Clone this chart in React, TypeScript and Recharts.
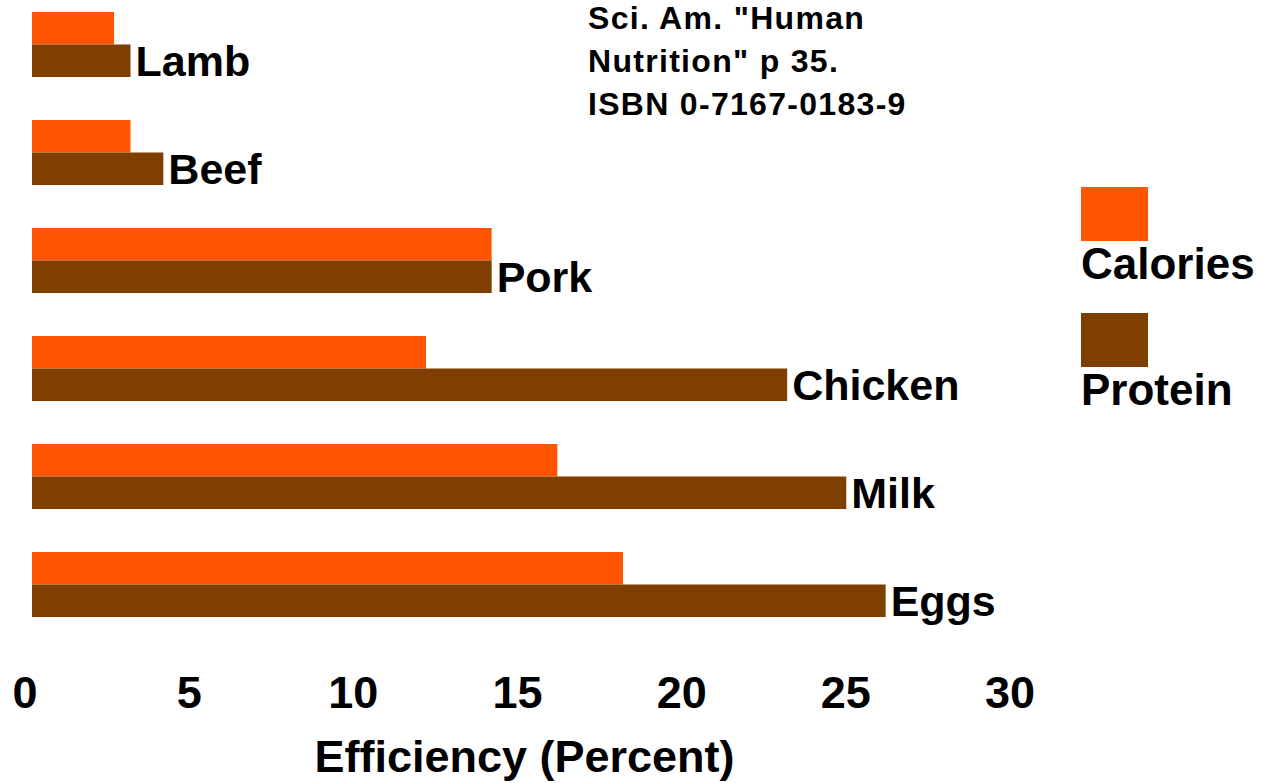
import React from 'react';
import { BarChart, Bar, XAxis, YAxis, Legend, LabelList } from 'recharts';

const foods = ['Lamb', 'Beef', 'Pork', 'Chicken', 'Milk', 'Eggs'];
const calories = [2.5, 3, 14, 12, 16, 18];
const protein = [3, 4, 14, 23, 24.8, 26];
const xTicks = [0, 5, 10, 15, 20, 25, 30];
const sourceLines = ['Sci. Am. "Human', 'Nutrition" p 35.', 'ISBN 0-7167-0183-9'];

const data = foods.map((name, i) => ({ name, Calories: calories[i], Protein: protein[i] }));

const FONT = '"Liberation Sans", Arial, sans-serif';
const ORANGE = '#ff5500';
const BROWN = '#7f3f00';

const XTick = (props: any) => {
  const { x, y, payload } = props;
  return (
    <text x={x - 7} y={y} dy={32} textAnchor="middle" fill="#000" fontSize={45} fontWeight="bold" fontFamily={FONT}>
      {payload.value}
    </text>
  );
};

const AxisTitle = (props: any) => {
  const { viewBox } = props;
  return (
    <text x={viewBox.x + viewBox.width / 2} y={viewBox.y + 134} textAnchor="middle" fill="#000" fontSize={45} fontWeight="bold" fontFamily={FONT}>
      Efficiency (Percent)
    </text>
  );
};

const LegendBox = (props: any) => {
  const { payload } = props;
  return (
    <div style={{ fontFamily: FONT }}>
      {payload.map((p: any) => (
        <div key={p.value} style={{ height: 126, position: 'relative' }}>
          <div style={{ width: 67, height: 54, background: p.color }} />
          <div style={{ position: 'absolute', left: 0, top: 52, fontSize: 44, fontWeight: 'bold', color: '#000', lineHeight: '50px' }}>
            {p.value}
          </div>
        </div>
      ))}
    </div>
  );
};

export default function App() {
  return (
    <div style={{ position: 'absolute', left: 0, top: -10, width: 1270, height: 800, background: '#fff' }}>
      <BarChart
        width={1270}
        height={800}
        data={data}
        layout="vertical"
        margin={{ top: 0, right: 253, bottom: 0, left: 32 }}
        barGap={0}
      >
        <XAxis
          type="number"
          domain={[0, 30]}
          ticks={xTicks}
          axisLine={false}
          tickLine={false}
          tickSize={0}
          tickMargin={38}
          height={152}
          tick={<XTick />}
          label={<AxisTitle />}
        />
        <YAxis type="category" dataKey="name" hide width={0} />
        <Legend
          layout="horizontal"
          verticalAlign="middle"
          align="center"
          content={<LegendBox />}
          wrapperStyle={{ position: 'absolute', left: 1081, top: 197, width: 180 }}
        />
        <Bar dataKey="Calories" fill={ORANGE} barSize={32.5} isAnimationActive={false} />
        <Bar dataKey="Protein" fill={BROWN} barSize={32.5} isAnimationActive={false}>
          <LabelList dataKey="name" position="right" offset={5} fill="#000" fontSize={43} fontWeight="bold" fontFamily={FONT} />
        </Bar>
        {sourceLines.map((line, i) => (
          <text key={line} x={588} y={39 + i * 43} fill="#000" fontSize={32} fontWeight="bold" fontFamily={FONT} letterSpacing={1.3}>
            {line}
          </text>
        ))}
      </BarChart>
    </div>
  );
}
